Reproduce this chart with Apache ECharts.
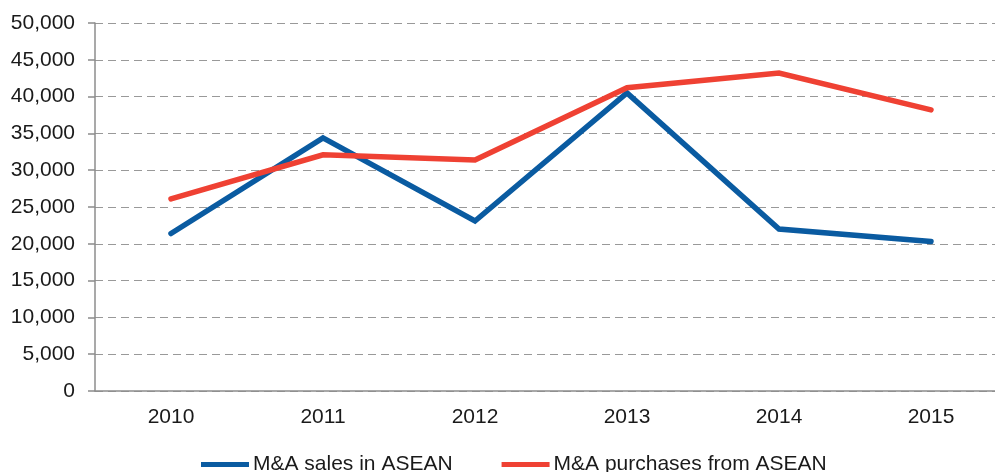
<!DOCTYPE html>
<html>
<head>
<meta charset="utf-8">
<script src="https://cdn.jsdelivr.net/npm/echarts@6/dist/echarts.min.js"></script>
<style>
  html, body { margin: 0; padding: 0; background: #fff; }
  #chart { width: 995px; height: 472px; }
</style>
</head>
<body>
<div id="chart"></div>
<script>
const years = ['2010', '2011', '2012', '2013', '2014', '2015']
const salesInAsean = [21400, 34400, 23100, 40500, 22000, 20300]
const purchasesFromAsean = [26100, 32100, 31400, 41200, 43200, 38200]

const font = 'Liberation Sans, Arial, Helvetica, sans-serif'
const textColor = '#1a1a1a'

const chart = echarts.init(document.getElementById('chart'), null, { renderer: 'canvas' })

chart.setOption({
  animation: false,
  grid: { left: 95, right: -12, top: 23, bottom: 81, outerBoundsMode: 'none' },
  legend: {
    left: 196,
    top: 449,
    icon: 'rect',
    itemWidth: 48,
    itemHeight: 5,
    itemGap: 49,
    textStyle: { fontFamily: font, fontSize: 21, color: textColor, padding: [0, 0, 0, -1] },
    data: ['M&A sales in ASEAN', 'M&A purchases from ASEAN']
  },
  xAxis: {
    type: 'category',
    data: years,
    boundaryGap: true,
    axisLine: { lineStyle: { color: '#8c8c8c', width: 1.5 } },
    axisTick: { length: 7, lineStyle: { color: '#8c8c8c', width: 1.5 } },
    axisLabel: { fontFamily: font, fontSize: 21, color: textColor, margin: 16 }
  },
  yAxis: {
    type: 'value',
    min: 0,
    max: 50000,
    interval: 5000,
    axisLine: { show: true, lineStyle: { color: '#8c8c8c', width: 1.5 } },
    axisTick: { show: true, length: 7, lineStyle: { color: '#8c8c8c', width: 1.5 } },
    axisLabel: {
      fontFamily: font,
      fontSize: 21,
      color: textColor,
      margin: 20,
      formatter: (v) => v.toLocaleString('en-US')
    },
    splitLine: { lineStyle: { color: '#999', type: [8, 5], width: 1.2 } }
  },
  series: [
    {
      name: 'M&A sales in ASEAN',
      type: 'line',
      data: salesInAsean,
      symbol: 'none',
      lineStyle: { color: '#0a5ba1', width: 5.5, cap: 'round', join: 'miter' },
      itemStyle: { color: '#0a5ba1' }
    },
    {
      name: 'M&A purchases from ASEAN',
      type: 'line',
      data: purchasesFromAsean,
      symbol: 'none',
      lineStyle: { color: '#ef4133', width: 5.5, cap: 'round', join: 'miter' },
      itemStyle: { color: '#ef4133' }
    }
  ]
})
</script>
</body>
</html>
